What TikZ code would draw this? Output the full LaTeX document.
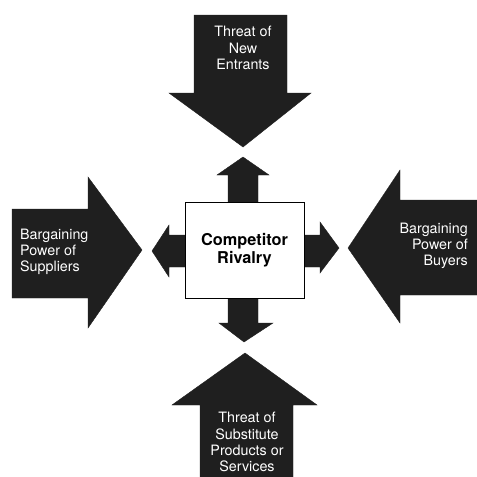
\documentclass[tikz,border=0pt]{standalone}
\usepackage{fontspec}
\setmainfont{TeX Gyre Heros}
\begin{document}
\begin{tikzpicture}[x=1pt,y=-1pt,
  bigarrow/.style={fill=black!88,draw=black!88,line join=miter},
  smallarrow/.style={fill=black!88,draw=black!88,line join=miter},
  forcetext/.style={text=white,font=\fontsize{14.3}{16.2}\selectfont,inner sep=0pt},
  rivalbox/.style={draw=black,line width=0.6pt,fill=white,minimum width=119pt,minimum height=96pt,inner sep=0pt,font=\bfseries\fontsize{16.3}{18}\selectfont,align=center}]
\useasboundingbox (0,0) rectangle (477,477);
% big arrows
\fill[bigarrow] (194,15) -- (287,15) -- (287,93) -- (311,93) -- (243,147) -- (169,93) -- (194,93) -- cycle;
\fill[bigarrow] (12,209) -- (88,209) -- (88,177) -- (142,250) -- (88,328) -- (88,298) -- (12,298) -- cycle;
\fill[bigarrow] (477,200) -- (400,200) -- (400,170) -- (348,248) -- (400,323) -- (400,295) -- (477,295) -- cycle;
\fill[bigarrow] (200,477) -- (200,405) -- (172,405) -- (245,353) -- (317,405) -- (293,405) -- (293,477) -- cycle;
% small arrows
\fill[smallarrow] (228,210) -- (228,175) -- (217,175) -- (243,157) -- (269,175) -- (258,175) -- (258,210) -- cycle;
\fill[smallarrow] (228,290) -- (228,323) -- (219,323) -- (244,342) -- (273,323) -- (258,323) -- (258,290) -- cycle;
\fill[smallarrow] (195,235) -- (169,235) -- (169,225) -- (152,251) -- (169,277) -- (169,267) -- (195,267) -- cycle;
\fill[smallarrow] (295,235) -- (320,235) -- (320,222) -- (339,248) -- (320,273) -- (320,267) -- (295,267) -- cycle;
% centre box
\node[rivalbox] (rivalry) at (244.5,250) {Competitor\\Rivalry};
% texts
\node[forcetext,align=center] (entrants) at (243,48) {Threat of\\New\\Entrants};
\node[forcetext,align=left,anchor=west] (suppliers) at (20,252) {Bargaining\\Power of\\Suppliers};
\node[forcetext,align=right,anchor=east] (buyers) at (468,246) {Bargaining\\Power of\\Buyers};
\node[forcetext,align=center] (substitutes) at (247,442) {Threat of\\Substitute\\Products or\\Services};
\end{tikzpicture}
\end{document}
